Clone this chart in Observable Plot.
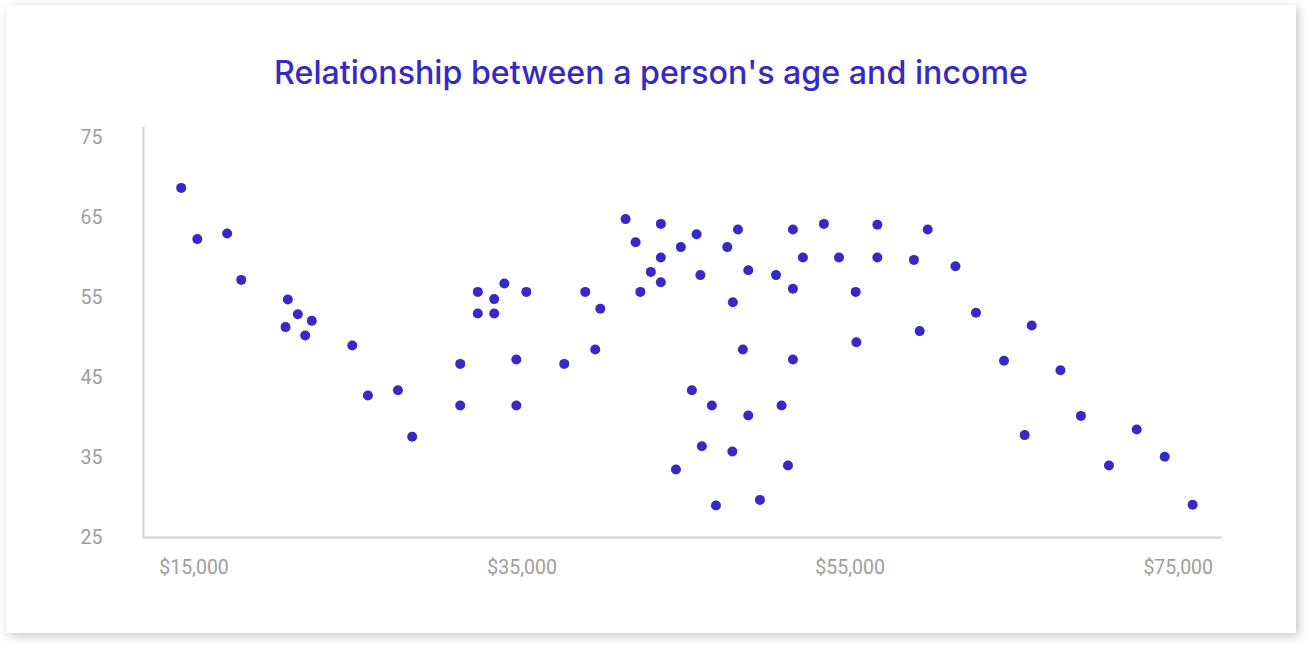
<!DOCTYPE html>
<html>
<head>
<meta charset="utf-8">
<script src="https://cdn.jsdelivr.net/npm/d3@7"></script>
<script src="https://cdn.jsdelivr.net/npm/@observablehq/plot@0.6"></script>
<style>
  html, body { margin: 0; padding: 0; background: #ffffff; width: 1310px; height: 647px; overflow: hidden; }
  #card { position: absolute; left: 6px; top: 5px; width: 1290px; height: 628px; background: #fff;
          box-shadow: 3px 3px 9px rgba(0,0,0,0.22); }
  #title { position: absolute; left: 0; width: 1302px; top: 53px; text-align: center;
           font-family: Inter, "Noto Sans", sans-serif; font-weight: 500; font-size: 32.2px; color: #3629c6; letter-spacing: 0; }
  #chart { position: absolute; left: 0; top: 99px; }
</style>
</head>
<body>
<div id="card"></div>
<div id="title">Relationship between a person's age and income</div>
<div id="chart"></div>
<script>
const income = [14220, 15200, 17020, 17880, 20720, 21330, 22180, 20580, 21780, 24650,
  25600, 27430, 28300, 31230, 31230, 32300, 32300, 33300, 33300, 33920,
  35260, 34650, 34650, 37570, 38850, 39770, 39460, 41310, 41920, 43460,
  43460, 42850, 43460, 42210, 44680, 45640, 45870, 47510, 48160, 48790,
  47850, 48460, 51510, 53400, 52120, 50480, 51510, 51510, 54320, 45350,
  46570, 48790, 50820, 45960, 47820, 51210, 44380, 46820, 49500, 56660,
  59730, 56660, 58890, 61420, 55340, 62670, 59240, 66070, 55380, 64380,
  67820, 65640, 69070, 70780, 72470, 74180, 75880];
const age = [68.7, 62.3, 63.0, 57.2, 54.75, 52.9, 52.1, 51.3, 50.25, 49.0,
  42.75, 43.4, 37.6, 46.7, 41.5, 55.7, 53.0, 54.8, 53.0, 56.75,
  55.7, 47.25, 41.5, 46.7, 55.7, 53.6, 48.5, 64.8, 61.9, 64.2,
  60.0, 58.2, 56.9, 55.7, 61.3, 62.9, 57.8, 61.3, 63.5, 58.4,
  54.4, 48.5, 63.5, 64.2, 60.0, 57.8, 56.1, 47.25, 60.0, 43.4,
  41.5, 40.25, 41.5, 36.4, 35.75, 34.0, 33.5, 29.0, 29.7, 64.1,
  63.5, 60.0, 59.7, 58.9, 55.7, 53.1, 50.8, 51.5, 49.4, 47.1,
  45.9, 37.8, 40.2, 34.0, 38.5, 35.1, 29.1];
const xTicks = [15000, 35000, 55000, 75000];
const yTicks = [25, 35, 45, 55, 65, 75];
const xDomain = [11920, 77700];
const yDomain = [25, 76.25];

const data = income.map((v, i) => ({income: v, age: age[i]}));
const fmt = d3.format("$,");

const chart = Plot.plot({
  width: 1310,
  height: 500,
  marginLeft: 143,
  marginRight: 88,
  marginTop: 28,
  marginBottom: 62,
  style: {fontFamily: "Roboto, sans-serif", fontSize: "19.5px", color: "#9e9e9e", background: "transparent"},
  x: {domain: xDomain},
  y: {domain: yDomain},
  marks: [
    Plot.ruleX([xDomain[0]], {stroke: "#d0d0d0", strokeWidth: 2}),
    Plot.ruleY([yDomain[0]], {stroke: "#d0d0d0", strokeWidth: 2}),
    Plot.axisX({ticks: xTicks, tickFormat: fmt, tickSize: 0, tickPadding: 23, label: null, fill: "#9e9e9e"}),
    Plot.axisY({ticks: yTicks, tickSize: 0, tickPadding: 41, label: null, fill: "#9e9e9e"}),
    Plot.dot(data, {x: "income", y: "age", r: 5, fill: "#3629c6", stroke: "none"})
  ]
});
document.getElementById("chart").appendChild(chart);
</script>
</body>
</html>
